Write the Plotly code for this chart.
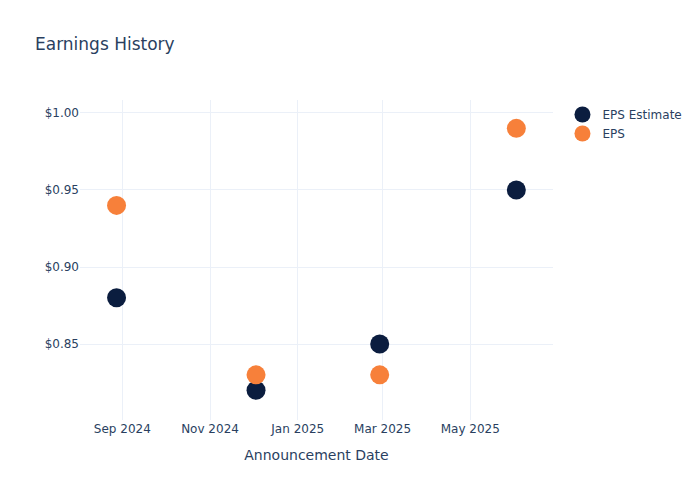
import plotly.graph_objects as go

dates = ["2024-08-28", "2024-12-03", "2025-02-27", "2025-06-02"]
eps_estimate = [0.88, 0.82, 0.85, 0.95]
eps_actual = [0.94, 0.83, 0.83, 0.99]

fig = go.Figure()
fig.add_trace(go.Scatter(x=dates, y=eps_estimate, mode="markers", name="EPS Estimate",
                         marker=dict(color="#0b1d3f", size=19)))
fig.add_trace(go.Scatter(x=dates, y=eps_actual, mode="markers", name="EPS",
                         marker=dict(color="#f7803a", size=19)))

fig.update_layout(
    template="plotly_white",
    width=700, height=500,
    font=dict(family="DejaVu Sans"),
    title=dict(text="Earnings History"),
    margin=dict(l=80, r=147, t=100, b=80),
    xaxis=dict(title="Announcement Date", range=["2024-08-02 14:00", "2025-06-27 12:00"],
               dtick="M2", tick0="2024-09-01", tickformat="%b %Y"),
    yaxis=dict(range=[0.8007, 1.0084], tickprefix="$", tickformat=".2f", dtick=0.05),
)
fig.write_html("out.html", config={"displayModeBar": False},
               post_script="document.body.style.margin='0';")
